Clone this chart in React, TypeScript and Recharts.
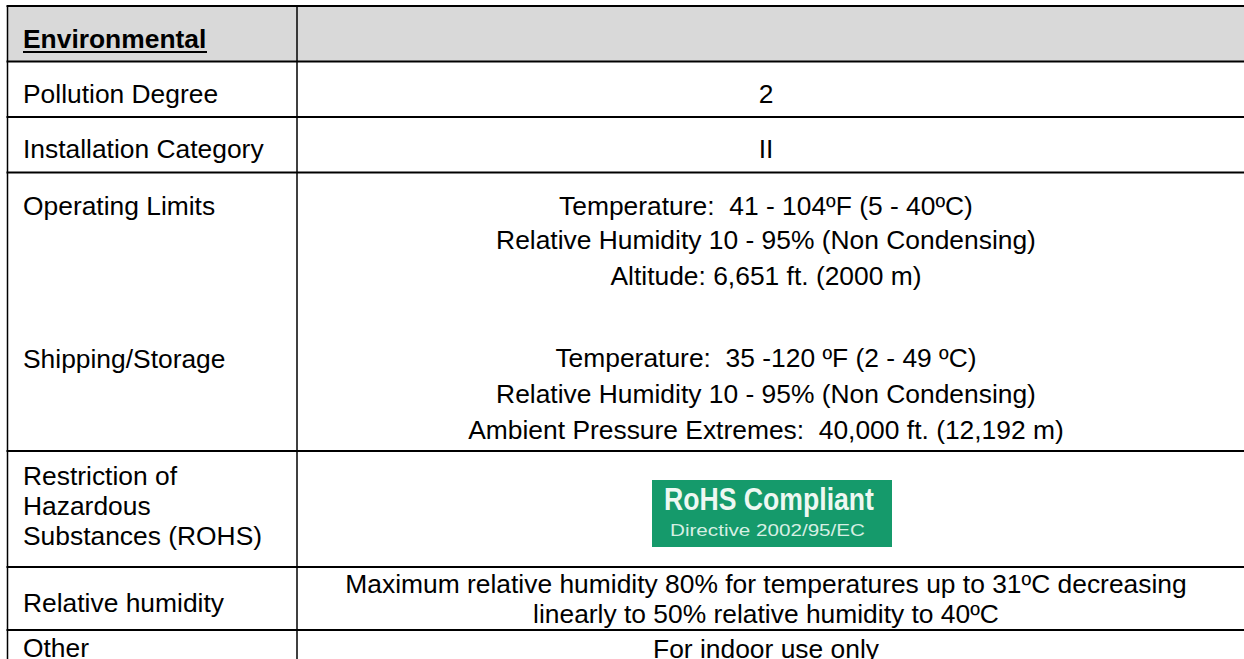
import React from "react";
import { Surface, Layer, Rectangle } from "recharts";

// Table contents
const HEADER = "Environmental";

const parameterLines = [
  "Pollution Degree",
  "Installation Category",
  "Operating Limits",
  "Shipping/Storage",
  "Restriction of",
  "Hazardous",
  "Substances (ROHS)",
  "Relative humidity",
  "Other",
];

const valueLines = [
  "2",
  "II",
  "Temperature:  41 - 104ºF (5 - 40ºC)",
  "Relative Humidity 10 - 95% (Non Condensing)",
  "Altitude: 6,651 ft. (2000 m)",
  "Temperature:  35 -120 ºF (2 - 49 ºC)",
  "Relative Humidity 10 - 95% (Non Condensing)",
  "Ambient Pressure Extremes:  40,000 ft. (12,192 m)",
  "Maximum relative humidity 80% for temperatures up to 31ºC decreasing",
  "linearly to 50% relative humidity to 40ºC",
  "For indoor use only",
];

const LOGO_TITLE = "RoHS Compliant";
const LOGO_SUB = "Directive 2002/95/EC";

// layout
const W = 1244;
const H = 659;
const LEFT = 7.5;
const DIVIDER = 297;
const VALUE_CX = 766;
const ROW_RULES = [6, 61.5, 117, 172.5, 451, 567, 630];
const PARAM_BASELINES = [103, 158, 215, 368, 485, 515, 545, 612, 657];
const VALUE_BASELINES = [103, 158, 215, 249, 285, 367, 403, 439, 593, 623, 658];

const FONT = "'Liberation Sans', Arial, sans-serif";
const FS = 26.4;

export default function App() {
  return (
    <div style={{ position: "absolute", left: 0, top: 0, width: W, height: H, background: "#fff" }}>
      <Surface width={W} height={H}>
        {/* header band */}
        <Rectangle x={LEFT} y={ROW_RULES[0]} width={W - LEFT} height={ROW_RULES[1] - ROW_RULES[0]} fill="#d9d9d9" />

        <Layer className="rules">
          {ROW_RULES.map((y, i) => (
            <line key={i} x1={LEFT - 1} x2={W} y1={y} y2={y} stroke="#000" strokeWidth={2} />
          ))}
          <line x1={LEFT} x2={LEFT} y1={ROW_RULES[0]} y2={H} stroke="#000" strokeWidth={1.5} />
          <line x1={DIVIDER} x2={DIVIDER} y1={ROW_RULES[0]} y2={H} stroke="#000" strokeWidth={1.5} />
        </Layer>

        <Layer className="header">
          <text x={23} y={47.5} fontFamily={FONT} fontSize={FS} fontWeight="bold" fill="#000">
            {HEADER}
          </text>
          <line x1={23} x2={207} y1={52} y2={52} stroke="#000" strokeWidth={2} />
        </Layer>

        <Layer className="parameters">
          {parameterLines.map((t, i) => (
            <text key={i} x={23} y={PARAM_BASELINES[i]} fontFamily={FONT} fontSize={FS} fill="#000" style={{ whiteSpace: "pre" }}>
              {t}
            </text>
          ))}
        </Layer>

        <Layer className="values">
          {valueLines.map((t, i) => (
            <text
              key={i}
              x={VALUE_CX}
              y={VALUE_BASELINES[i]}
              textAnchor="middle"
              fontFamily={FONT}
              fontSize={FS}
              fill="#000"
              style={{ whiteSpace: "pre" }}
            >
              {t}
            </text>
          ))}
        </Layer>

        <Layer className="rohs-logo">
          <Rectangle x={652} y={480} width={240} height={67} fill="#159a6b" />
          <text
            x={664}
            y={510}
            fontFamily={FONT}
            fontSize={31}
            fontWeight="bold"
            fill="#eef8f2"
            textLength={210}
            lengthAdjust="spacingAndGlyphs"
          >
            {LOGO_TITLE}
          </text>
          <text
            x={670}
            y={536}
            fontFamily={FONT}
            fontSize={17}
            fill="#d6efe3"
            textLength={195}
            lengthAdjust="spacingAndGlyphs"
          >
            {LOGO_SUB}
          </text>
        </Layer>
      </Surface>
    </div>
  );
}
